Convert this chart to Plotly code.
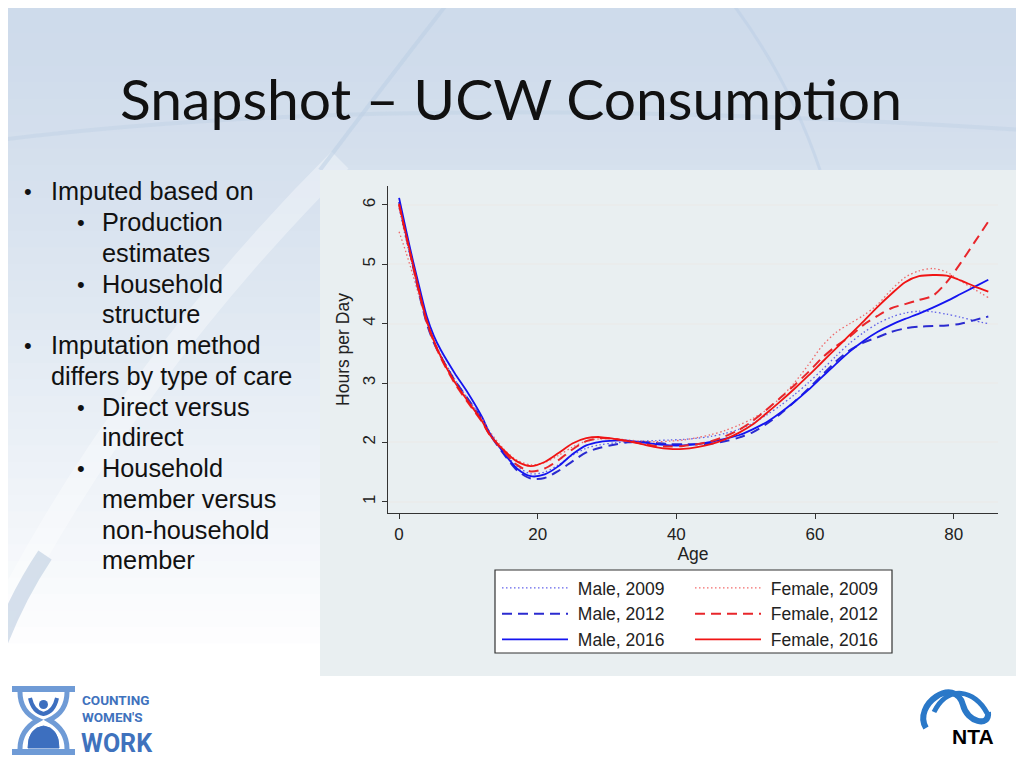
import plotly.graph_objects as go

# page body has an 8px margin: figure is sized to fill the rest of the window
OFF = 8
W, H = 1024 - OFF, 768 - OFF

ages = [0, 1, 2, 3, 4, 5, 6, 8, 10, 12, 13, 15, 17, 19, 21, 23, 25, 27, 29, 31, 33, 35,
        37, 39, 41, 43, 45, 47, 49, 51, 53, 55, 57, 59, 61, 63, 65, 67, 69, 71, 73, 75,
        77, 79, 81, 83, 85]

male_2009 = [5.95, 5.42, 4.93, 4.45, 4.03, 3.72, 3.48, 3.07, 2.72, 2.40, 2.17, 1.85, 1.60,
             1.47, 1.50, 1.62, 1.78, 1.90, 1.96, 1.99, 2.01, 2.02, 2.03, 2.04, 2.05, 2.07,
             2.10, 2.15, 2.22, 2.32, 2.46, 2.62, 2.80, 3.00, 3.22, 3.45, 3.67, 3.85, 4.00,
             4.11, 4.18, 4.21, 4.20, 4.16, 4.11, 4.05, 4.00]
female_2009 = [5.55, 5.20, 4.82, 4.42, 4.02, 3.70, 3.44, 3.03, 2.70, 2.40, 2.20, 1.90, 1.70,
               1.62, 1.66, 1.78, 1.92, 2.02, 2.06, 2.06, 2.04, 2.02, 2.01, 2.02, 2.04, 2.08,
               2.13, 2.20, 2.29, 2.40, 2.55, 2.75, 3.00, 3.30, 3.62, 3.85, 4.00, 4.14, 4.32,
               4.57, 4.78, 4.89, 4.93, 4.87, 4.72, 4.58, 4.44]
male_2012 = [6.05, 5.50, 4.98, 4.45, 4.00, 3.68, 3.45, 3.05, 2.72, 2.38, 2.15, 1.82, 1.53,
             1.39, 1.40, 1.52, 1.68, 1.83, 1.91, 1.96, 2.00, 2.01, 1.99, 1.97, 1.97, 1.97,
             1.98, 2.02, 2.08, 2.17, 2.31, 2.48, 2.68, 2.90, 3.13, 3.36, 3.55, 3.68, 3.77,
             3.86, 3.92, 3.95, 3.96, 3.97, 4.00, 4.06, 4.12]
female_2012 = [6.00, 5.48, 4.98, 4.48, 4.02, 3.70, 3.43, 3.00, 2.66, 2.34, 2.14, 1.86, 1.62,
               1.51, 1.56, 1.70, 1.88, 2.02, 2.07, 2.06, 2.02, 1.98, 1.94, 1.93, 1.94, 1.97,
               2.02, 2.10, 2.21, 2.36, 2.55, 2.75, 2.96, 3.18, 3.42, 3.62, 3.78, 3.98, 4.13,
               4.26, 4.33, 4.40, 4.47, 4.70, 5.02, 5.37, 5.72]
male_2016 = [6.12, 5.58, 5.06, 4.58, 4.12, 3.80, 3.56, 3.17, 2.82, 2.42, 2.17, 1.84, 1.56,
             1.43, 1.46, 1.60, 1.80, 1.95, 2.01, 2.03, 2.03, 2.00, 1.97, 1.95, 1.95, 1.97,
             2.01, 2.06, 2.12, 2.22, 2.34, 2.50, 2.68, 2.88, 3.10, 3.32, 3.53, 3.71, 3.86,
             3.98, 4.08, 4.17, 4.27, 4.38, 4.50, 4.62, 4.74]
female_2016 = [6.02, 5.50, 5.00, 4.50, 4.05, 3.72, 3.45, 3.02, 2.68, 2.35, 2.14, 1.88, 1.68,
               1.60, 1.67, 1.82, 1.98, 2.07, 2.09, 2.06, 2.02, 1.97, 1.92, 1.89, 1.89, 1.92,
               1.97, 2.05, 2.16, 2.30, 2.49, 2.69, 2.90, 3.12, 3.35, 3.58, 3.81, 4.04, 4.28,
               4.50, 4.70, 4.80, 4.82, 4.81, 4.73, 4.63, 4.54]

DOT = "1.5px,2.5px"
DASH = "10px,6px"
series = [
    ("Male, 2009", male_2009, "rgba(60,60,230,0.8)", DOT, 1.3, "legend"),
    ("Male, 2012", male_2012, "#2b2bd0", DASH, 2, "legend"),
    ("Male, 2016", male_2016, "#1414f0", "solid", 1.8, "legend"),
    ("Female, 2009", female_2009, "rgba(240,70,70,0.8)", DOT, 1.3, "legend2"),
    ("Female, 2012", female_2012, "#e8262b", DASH, 2, "legend2"),
    ("Female, 2016", female_2016, "#f01414", "solid", 1.8, "legend2"),
]

x_ticks = [0, 20, 40, 60, 80]
y_ticks = [1, 2, 3, 4, 5, 6]

title_text = "Snapshot – UCW Consumption"
bullets = [
    (1, "Imputed based on", 191, True),
    (2, "Production", 222, True),
    (2, "estimates", 253, False),
    (2, "Household", 284, True),
    (2, "structure", 314, False),
    (1, "Imputation method", 345, True),
    (1, "differs by type of care", 376, False),
    (2, "Direct versus", 407, True),
    (2, "indirect", 437, False),
    (2, "Household", 468, True),
    (2, "member versus", 499, False),
    (2, "non-household", 530, False),
    (2, "member", 560, False),
]


def px(x):
    return (x - OFF) / W


def py(y):
    return 1 - (y - OFF) / H


fig = go.Figure()
for name, vals, color, dash, width, leg in series:
    fig.add_trace(go.Scatter(
        x=ages, y=vals, name="\u00a0" + name, mode="lines", legend=leg,
        line=dict(color=color, dash=dash, width=width, shape="spline", smoothing=0.8),
    ))

shapes = []
# background gradient
top = (206, 219, 235)
n = 40
grad_end = 660
for i in range(n):
    t = i / (n - 1)
    c = tuple(int(top[k] + (255 - top[k]) * (t ** 1.3)) for k in range(3))
    y0 = grad_end * i / n
    y1 = grad_end * (i + 1) / n + 1
    shapes.append(dict(type="rect", xref="paper", yref="paper",
                       x0=px(0), x1=px(1024), y0=py(y1), y1=py(y0),
                       fillcolor="rgb(%d,%d,%d)" % c, line=dict(width=0), layer="below"))

# decorative swooshes
shapes.append(dict(type="path", xref="paper", yref="paper",
                   path="M %f %f Q %f %f %f %f" % (px(-10), py(640), px(120), py(380), px(340), py(160)),
                   line=dict(color="rgba(255,255,255,0.35)", width=24), layer="below"))
shapes.append(dict(type="path", xref="paper", yref="paper",
                   path="M %f %f Q %f %f %f %f" % (px(-5), py(655), px(15), py(600), px(45), py(555)),
                   line=dict(color="rgba(200,214,230,0.75)", width=16), layer="below"))
shapes.append(dict(type="path", xref="paper", yref="paper",
                   path="M %f %f Q %f %f %f %f" % (px(450), py(0), px(380), py(90), px(320), py(170)),
                   line=dict(color="rgba(185,205,228,0.5)", width=4), layer="below"))
shapes.append(dict(type="path", xref="paper", yref="paper",
                   path="M %f %f Q %f %f %f %f" % (px(0), py(140), px(400), py(90), px(1024), py(130)),
                   line=dict(color="rgba(190,208,228,0.45)", width=4), layer="below"))
shapes.append(dict(type="path", xref="paper", yref="paper",
                   path="M %f %f Q %f %f %f %f" % (px(730), py(0), px(790), py(80), px(820), py(170)),
                   line=dict(color="rgba(185,205,228,0.45)", width=3), layer="below"))

# chart panel
shapes.append(dict(type="rect", xref="paper", yref="paper",
                   x0=px(320), x1=px(1016), y0=py(676), y1=py(170),
                   fillcolor="#e9eff1", line=dict(width=0), layer="below"))
# legend frame (both legend columns sit inside)
shapes.append(dict(type="rect", xref="paper", yref="paper",
                   x0=px(495), x1=px(892), y0=py(653), y1=py(570),
                   fillcolor="white", line=dict(color="#333333", width=1.2), layer="below"))

# Counting Women's Work logo (hourglass)
lb = "#6f9bd6"
db = "#3d6fbf"
shapes += [
    dict(type="rect", xref="paper", yref="paper", x0=px(12), x1=px(75), y0=py(692), y1=py(686),
         fillcolor=lb, line=dict(width=0)),
    dict(type="rect", xref="paper", yref="paper", x0=px(12), x1=px(75), y0=py(755), y1=py(749),
         fillcolor=lb, line=dict(width=0)),
    dict(type="path", xref="paper", yref="paper",
         path="M %f %f Q %f %f %f %f Q %f %f %f %f" % (px(20), py(692), px(20), py(712), px(38), py(720),
                                                    px(20), py(730), px(20), py(749)),
         line=dict(color=lb, width=5)),
    dict(type="path", xref="paper", yref="paper",
         path="M %f %f Q %f %f %f %f Q %f %f %f %f" % (px(67), py(692), px(67), py(712), px(49), py(720),
                                                    px(67), py(730), px(67), py(749)),
         line=dict(color=lb, width=5)),
    dict(type="path", xref="paper", yref="paper",
         path="M %f %f Q %f %f %f %f Q %f %f %f %f Z" % (px(28), py(748), px(28), py(728), px(43.5), py(726),
                                                      px(59), py(728), px(59), py(748)),
         fillcolor=db, line=dict(color=db, width=1)),
    dict(type="circle", xref="paper", yref="paper", x0=px(39), x1=px(48), y0=py(709), y1=py(700),
         fillcolor=db, line=dict(width=0)),
    dict(type="path", xref="paper", yref="paper",
         path="M %f %f Q %f %f %f %f Q %f %f %f %f" % (px(30), py(698), px(33), py(712), px(43.5), py(714),
                                                    px(54), py(712), px(57), py(698)),
         line=dict(color=db, width=4)),
]
# NTA logo loop
nb = "#2a78c8"
shapes.append(dict(type="path", xref="paper", yref="paper",
                   path="M %f %f C %f %f %f %f %f %f C %f %f %f %f %f %f" % (
                       px(926), py(728), px(912), py(705), px(955), py(675), px(963), py(705),
                       px(967), py(722), px(990), py(728), px(988), py(712)),
                   line=dict(color=nb, width=6)))
shapes.append(dict(type="path", xref="paper", yref="paper",
                   path="M %f %f C %f %f %f %f %f %f" % (
                       px(934), py(712), px(948), py(684), px(975), py(690), px(987), py(713)),
                   line=dict(color=nb, width=5)))

annotations = [
    dict(text=title_text, x=px(511), y=py(98), xref="paper", yref="paper",
         xanchor="center", yanchor="middle", showarrow=False,
         font=dict(family="Lato", size=57, color="#111111")),
]
for level, text, yy, has_bullet in bullets:
    tx = 51 if level == 1 else 102
    bx = 22 if level == 1 else 75
    if has_bullet:
        annotations.append(dict(text="•", x=px(bx), y=py(yy), xref="paper", yref="paper",
                                xanchor="left", yanchor="middle", showarrow=False,
                                font=dict(family="Liberation Sans", size=22, color="#111111")))
    annotations.append(dict(text=text, x=px(tx - 2), y=py(yy), xref="paper", yref="paper",
                            xanchor="left", yanchor="middle", showarrow=False,
                            font=dict(family="Liberation Sans", size=25.3, color="#111111")))

annotations += [
    dict(text="COUNTING", x=px(80), y=py(700), xref="paper", yref="paper", xanchor="left",
         yanchor="middle", showarrow=False,
         font=dict(family="Roboto", size=13.5, color="#3f72bd", weight="bold")),
    dict(text="WOMEN'S", x=px(80), y=py(717), xref="paper", yref="paper", xanchor="left",
         yanchor="middle", showarrow=False,
         font=dict(family="Roboto", size=13.5, color="#3f72bd", weight="bold")),
    dict(text="WORK", x=px(79), y=py(743), xref="paper", yref="paper", xanchor="left",
         yanchor="middle", showarrow=False,
         font=dict(family="Roboto", size=25, color="#3f72bd", weight="bold")),
    dict(text="NTA", x=px(973), y=py(736), xref="paper", yref="paper", xanchor="center",
         yanchor="middle", showarrow=False,
         font=dict(family="Liberation Sans", size=21, color="#000000", weight="bold")),
]

leg_common = dict(orientation="v", xanchor="left", yanchor="top",
                  bgcolor="rgba(0,0,0,0)", borderwidth=0,
                  font=dict(size=17.5, color="#222222"), itemwidth=66,
                  tracegroupgap=0)

fig.update_layout(
    width=W, height=H,
    margin=dict(l=0, r=0, t=0, b=0),
    paper_bgcolor="white",
    plot_bgcolor="white",
    shapes=shapes,
    annotations=annotations,
    font=dict(family="Liberation Sans", color="#222222"),
    xaxis=dict(domain=[px(388), px(998)], range=[-1.6, 86.4],
               tickvals=x_ticks, ticks="outside", ticklen=5, tickcolor="#333333",
               showline=True, linecolor="#333333", linewidth=1.2, showgrid=False,
               zeroline=False, tickfont=dict(size=17, color="#222222"),
               title=dict(text="Age", font=dict(size=17.5, color="#222222"), standoff=0)),
    yaxis=dict(domain=[py(513), py(186)], range=[0.81, 6.32],
               tickvals=y_ticks, ticks="outside", ticklen=5, tickcolor="#333333",
               tickangle=-90,
               showline=True, linecolor="#333333", linewidth=1.2, showgrid=True,
               gridcolor="#eaecec", gridwidth=1.5, zeroline=False,
               tickfont=dict(size=17, color="#222222"),
               title=dict(text="Hours per Day", font=dict(size=17.5, color="#222222"), standoff=5)),
    legend=dict(x=px(497), y=py(570), **leg_common),
    legend2=dict(x=px(690), y=py(570), **leg_common),
    showlegend=True,
)

fig.write_html("out.html")
